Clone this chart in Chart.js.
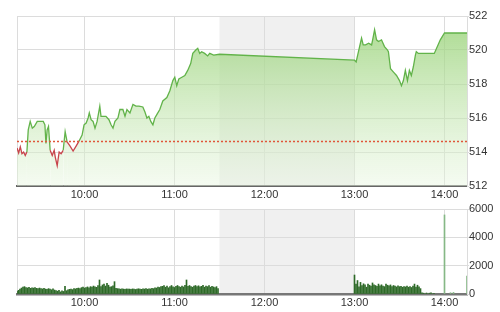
<!DOCTYPE html>
<html>
<head>
<meta charset="utf-8">
<script src="https://cdn.jsdelivr.net/npm/chart.js@4"></script>
<style>
  html, body { margin: 0; padding: 0; background: #fff; }
  #wrap { position: relative; width: 500px; height: 312px; }
  .box { position: absolute; left: 0; width: 500px; }
  #top { top: 0; height: 205px; }
  #bot { top: 200px; height: 112px; }
</style>
</head>
<body>
<div id="wrap">
  <div class="box" id="top"><canvas id="price"></canvas></div>
  <div class="box" id="bot"><canvas id="vol"></canvas></div>
</div>
<script>
// time is minutes after 9:00
const sessionStart = 15;   // 9:15
const sessionEnd = 315;    // 14:15
const lunchStart = 150;    // 11:30
const lunchEnd = 240;      // 13:00
const hourTicks = [60, 120, 180, 240, 300];

const refPrice = 514.62;
const priceTicks = [512, 514, 516, 518, 520, 522];
const volumeTicks = [0, 2000, 4000, 6000];

const priceTimes = [
  15, 16.1, 17.2, 18.3, 19.4, 20.5, 21.6, 22.5, 23.8, 25.2, 26.5, 28.5, 30.5, 32.5, 33.6,
  34.3, 35.1, 36.0, 37.1, 38.5, 39.8, 40.5, 41.8, 43.1, 44.4, 45.8, 47.1, 48.4, 50.4, 52.4,
  54.4, 56.4, 58.4, 59.7, 61.1, 62.4, 63.2, 64.4, 65.7, 67.0, 68.4, 70.2, 71.0, 72.3, 74.3,
  76.3, 77.7, 79.0, 80.3, 82.3, 83.6, 85.6, 87.0, 88.3, 90.3, 92.3, 94.3, 96.3, 98.9, 100.3,
  101.6, 102.9, 104.2, 105.6, 106.9, 108.2, 110.2, 112.2, 114.9, 116.9, 118.9, 120.2, 121.5, 122.9, 124.9,
  126.9, 128.8, 130.8, 132.2, 134.2, 135.5, 136.8, 138.1, 140.1, 142.1, 143.5, 146.1, 150,
  240, 241.1, 242.0, 243.4, 244.7, 245.8, 247.4, 249.4, 251.4, 252.1, 253.4, 254.7, 256.0, 258.0, 260.0,
  262.0, 262.6, 264.0, 266.0, 268.0, 270.0, 271.3, 272.6, 273.9, 275.3, 276.6, 277.9, 279.2, 280.6, 281.2,
  282.6, 284.5, 293.2, 297.2, 300, 315
];
const priceValues = [
  514.24, 513.94, 514.3, 513.9, 514.0, 513.8, 514.0, 515.3, 515.8, 515.4, 515.5, 515.8, 515.8, 515.8, 515.6,
  514.5, 515.3, 515.5, 514.1, 513.8, 514.1, 513.7, 513.2, 514.0, 513.9, 514.1, 515.2, 514.6, 514.35, 514.06,
  514.35, 514.65, 515.0, 515.6, 515.7, 516.0, 516.3, 515.9, 515.8, 515.4, 515.8, 516.7, 516.1, 516.1, 516.1,
  515.9, 515.6, 515.4, 515.8, 516.0, 516.5, 516.5, 516.1, 516.5, 516.3, 516.8, 516.7, 516.7, 516.65, 516.35,
  516.0, 516.1, 515.8, 515.6, 516.0, 516.2, 516.5, 517.0, 517.2, 517.6, 518.2, 518.4, 517.9, 518.3, 518.4,
  518.5, 518.8, 519.2, 519.8, 520.0, 520.1, 519.8, 519.9, 519.8, 519.65, 519.8, 519.7, 519.75,
  519.4, 519.3, 519.65, 520.2, 520.7, 520.3, 520.3, 520.4, 520.3, 520.6, 521.2, 520.6, 520.5, 520.6, 520.2,
  520.0, 519.9, 518.9, 518.7, 518.5, 518.2, 517.9, 518.2, 518.8, 518.2, 518.8, 518.5, 519.0, 519.7, 519.9,
  519.8, 519.8, 519.8, 520.6, 521.0, 521.0
];

// one bar per minute, morning from 9:15, afternoon from 13:00
const morningVolume = [
  180, 260, 340, 420, 480, 520, 450, 430, 470, 400, 440, 420, 460, 400, 380,
  420, 390, 360, 400, 350, 330, 380, 340, 300, 360, 280, 240, 200, 260, 150,
  220, 180, 540, 230, 300, 330, 350, 310, 380, 360, 400, 420, 380, 450, 480,
  420, 460, 500, 440, 520, 480, 560, 500, 470, 600, 990, 520, 640, 700, 560,
  750, 620, 480, 520, 580, 870, 400, 380, 360, 340, 370, 350, 330, 360, 340,
  350, 330, 360, 340, 320, 350, 370, 340, 330, 360, 350, 380, 340, 370, 360,
  400, 380, 440, 420, 480, 460, 520, 540, 600, 480, 560, 440, 520, 600, 500,
  460, 540, 600, 520, 480, 560, 500, 620, 990, 540, 600, 520, 480, 560, 600,
  520, 580, 500, 540, 620, 480, 560, 520, 600, 480, 540, 500, 460, 520, 380
];
const afternoonVolume = [
  1340, 700, 950, 500, 820, 600, 720, 650, 480, 700, 620, 560, 780, 640, 600,
  540, 700, 580, 650, 560, 520, 700, 620, 580, 640, 520, 600, 560, 500, 580,
  520, 540, 480, 520, 500, 560, 480, 520, 460, 560, 700, 480, 620, 500, 380,
  80, 60, 0, 70, 0, 60, 80, 0, 50
];
const closeTimes = [300, 304, 306, 315];
const closeVolume = [5580, 90, 110, 1270];

const green = '#62b34a';
const red = '#c8444c';
const font = { family: '"Liberation Sans", Arial, sans-serif', size: 11 };

function timeLabel(v) {
  if (v === sessionStart || v === sessionEnd) return '';
  const h = 9 + Math.floor(v / 60);
  const m = v % 60;
  return h + ':' + String(m).padStart(2, '0');
}

const lunchBand = {
  id: 'lunchBand',
  beforeDraw(chart) {
    const { ctx, chartArea, scales } = chart;
    const x0 = scales.x.getPixelForValue(lunchStart);
    const x1 = scales.x.getPixelForValue(lunchEnd);
    ctx.save();
    ctx.fillStyle = '#f0f0f0';
    ctx.fillRect(x0, chartArea.top, x1 - x0, chartArea.bottom - chartArea.top);
    ctx.restore();
  }
};

function xScale(axisHeight, borderColor, borderWidth) {
  return {
    type: 'linear',
    offset: false,
    min: sessionStart,
    max: sessionEnd,
    afterBuildTicks: s => { s.ticks = [sessionStart, ...hourTicks, sessionEnd].map(v => ({ value: v })); },
    afterFit: s => { s.height = axisHeight; },
    grid: { color: '#dcdcdc', drawTicks: false, offset: false },
    border: { color: borderColor, width: borderWidth },
    ticks: { font, color: '#333', padding: 2, maxRotation: 0, autoSkip: false, callback: timeLabel }
  };
}

function yScale(min, max, ticks) {
  return {
    position: 'right',
    min, max,
    afterBuildTicks: s => { s.ticks = ticks.map(v => ({ value: v })); },
    afterFit: s => { s.width = 33; },
    grid: { color: '#dcdcdc', tickLength: 2 },
    border: { color: '#dcdcdc' },
    ticks: { font, color: '#333', padding: 0, callback: v => String(v) }
  };
}

const below = ctx => (ctx.p0.parsed.y + ctx.p1.parsed.y) / 2 < refPrice;

new Chart(document.getElementById('price'), {
  type: 'line',
  data: {
    datasets: [
      {
        label: 'Reference',
        data: [{ x: sessionStart, y: refPrice }, { x: sessionEnd, y: refPrice }],
        borderColor: '#e0553a',
        borderWidth: 1.5,
        borderDash: [2, 2],
        pointRadius: 0,
        fill: false
      },
      {
        label: 'Price',
        data: priceTimes.map((t, i) => ({ x: t, y: priceValues[i] })),
        borderColor: green,
        borderWidth: 1.3,
        pointRadius: 0,
        tension: 0,
        fill: 'start',
        backgroundColor: ctx => {
          const area = ctx.chart.chartArea;
          if (!area) return 'rgba(170,220,140,0.5)';
          const g = ctx.chart.ctx.createLinearGradient(0, area.top, 0, area.bottom);
          g.addColorStop(0, 'rgba(145,207,110,0.8)');
          g.addColorStop(1, 'rgba(232,246,224,0.45)');
          return g;
        },
        segment: { borderColor: ctx => below(ctx) ? red : green }
      }
    ]
  },
  options: {
    animation: false,
    responsive: true,
    maintainAspectRatio: false,
    devicePixelRatio: 1,
    layout: { padding: { left: 17, top: 16, right: 0, bottom: 0 } },
    scales: { x: xScale(19, '#666', 2), y: yScale(512, 522, priceTicks) },
    plugins: { legend: { display: false }, tooltip: { enabled: false } }
  },
  plugins: [lunchBand]
});

const volumeData = [
  ...morningVolume.map((v, i) => ({ x: sessionStart + i, y: v })),
  ...afternoonVolume.map((v, i) => ({ x: lunchEnd + i, y: v })),
  ...closeVolume.map((v, i) => ({ x: closeTimes[i], y: v }))
];

new Chart(document.getElementById('vol'), {
  type: 'bar',
  data: {
    datasets: [{
      label: 'Volume',
      data: volumeData,
      barThickness: 1,
      backgroundColor: ctx => (ctx.raw && ctx.raw.x >= closeTimes[0]) ? '#86b886' : '#2e6a28'
    }]
  },
  options: {
    animation: false,
    responsive: true,
    maintainAspectRatio: false,
    devicePixelRatio: 1,
    layout: { padding: { left: 17, top: 9, right: 0, bottom: 0 } },
    scales: {
      x: xScale(18, '#777', 2.5),
      y: yScale(0, 6000, volumeTicks)
    },
    plugins: { legend: { display: false }, tooltip: { enabled: false } }
  },
  plugins: [lunchBand]
});
</script>
</body>
</html>
